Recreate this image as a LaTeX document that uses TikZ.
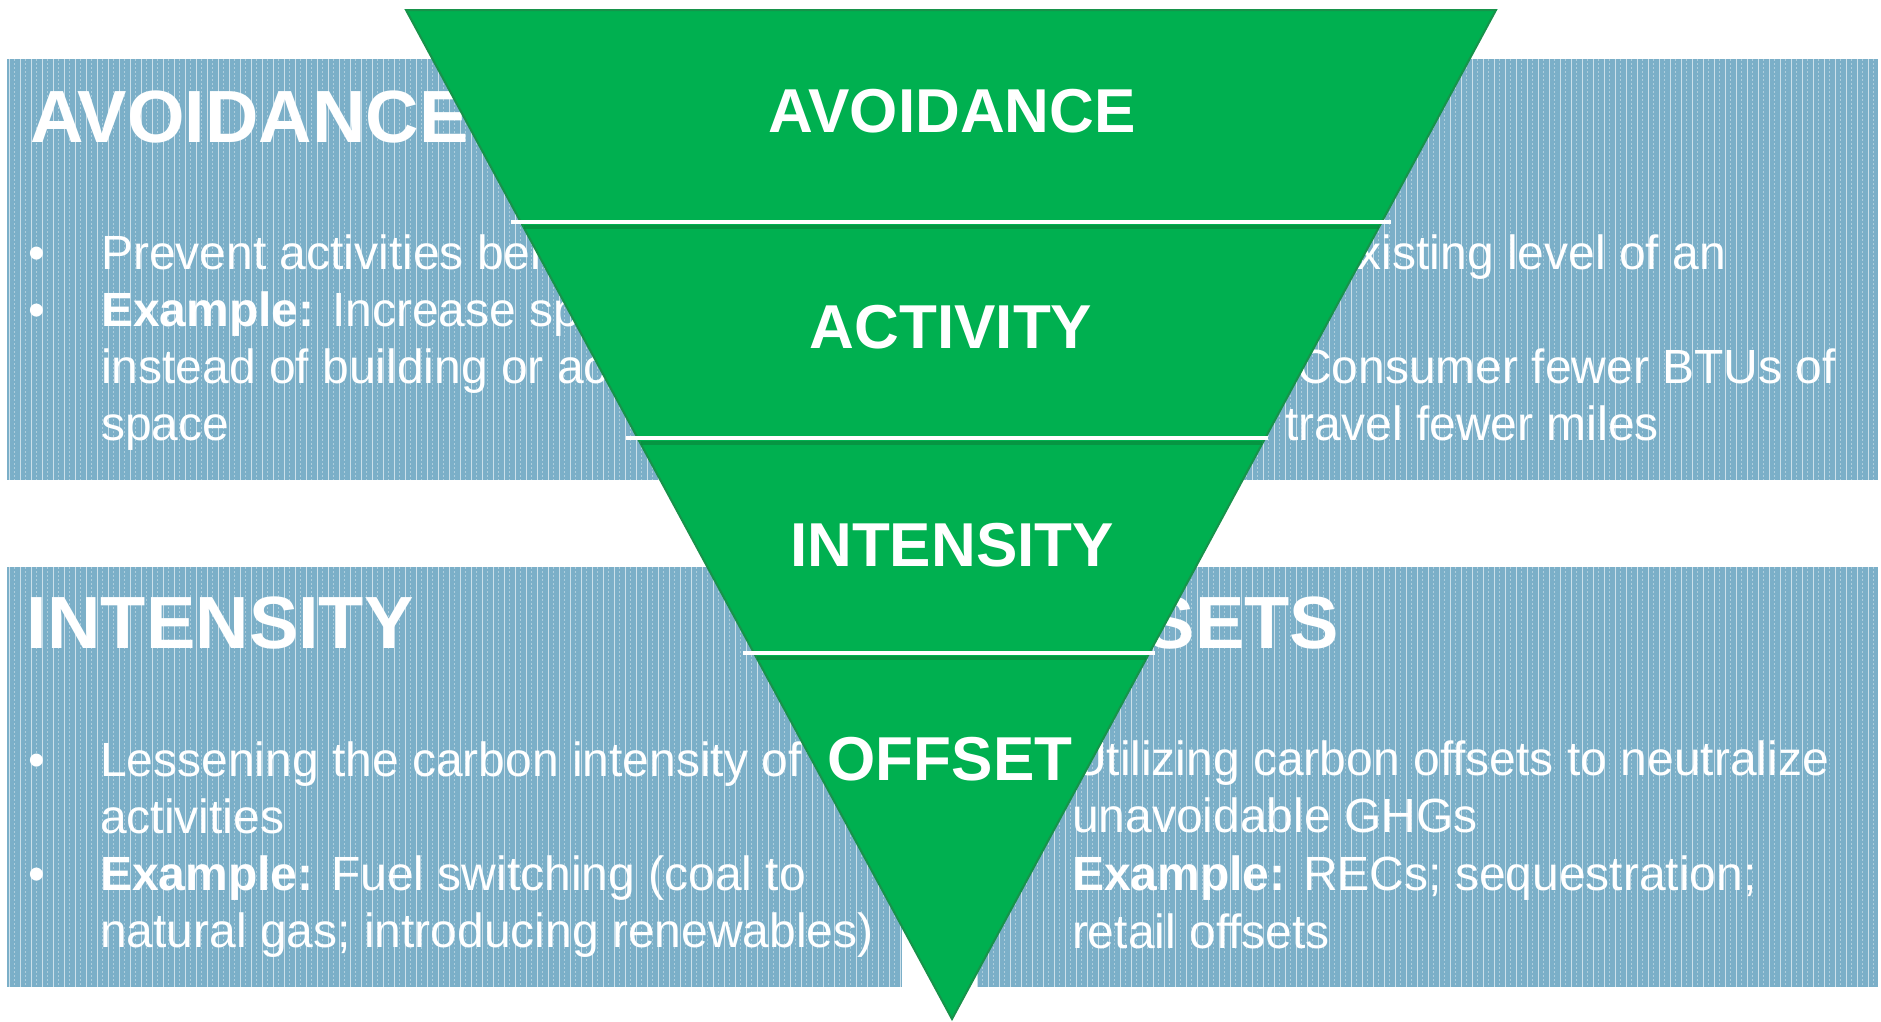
\documentclass[tikz,border=0pt]{standalone}
\usepackage{fontspec}
\setmainfont{Liberation Sans}
\definecolor{panelblue}{HTML}{7BAFC8}
\definecolor{tiergreen}{HTML}{00B050}
\definecolor{tieredge}{HTML}{17934A}
\definecolor{tiershade}{HTML}{0B7F38}
\begin{document}
\begin{tikzpicture}[x=1pt,y=-1pt,
  every node/.style={inner sep=0pt, outer sep=0pt},
  panel/.style={fill=panelblue},
  stripe/.style={draw=white, draw opacity=0.62, line width=1pt},
  dstripe/.style={draw=white, draw opacity=0.38, line width=1pt, dash pattern=on 2pt off 2pt},
  body/.style={text=white, font=\fontsize{48}{57}\selectfont, anchor=base west},
  bodyr/.style={body, anchor=base east},
  bullet/.style={text=white, font=\fontsize{48}{57}\selectfont, anchor=base west},
  boxtitle/.style={text=white, font=\fontsize{74}{80}\selectfont\bfseries, anchor=base west},
  tierlabel/.style={text=white, font=\fontsize{62}{70}\selectfont\bfseries, anchor=base},
  tierfill/.style={fill=tiergreen, draw=tieredge, line width=2pt, line join=miter},
  divider/.style={draw=white, line width=3.5pt},
  dividershade/.style={draw=tiershade, line width=4pt, draw opacity=0.55}
]
\useasboundingbox (0,0) rectangle (1881,1021);
\fill[white] (0,0) rectangle (1881,1021);

% four striped panels
\path[panel] (7,59) rectangle (902,480);
\path[panel] (977,59) rectangle (1878,480);
\path[panel] (7,567) rectangle (902,987);
\path[panel] (977,567) rectangle (1878,987);
\begin{scope}
  \clip (7,59) rectangle (902,480) (977,59) rectangle (1878,480)
        (7,567) rectangle (902,987) (977,567) rectangle (1878,987);
  \foreach \x in {9,20,...,1879} {
    \path[stripe] (\x,59) -- (\x,987);
    \path[dstripe] (\x+5.5,59) -- (\x+5.5,987);
  }
\end{scope}

% top-left panel
\node[boxtitle] (avtitle) at (30,142) {AVOIDANCE};
\node[bullet] (avb1) at (28,269) {•};
\node[bullet] (avb2) at (28,326) {•};
\node[body] (av1) at (101,269) {Prevent activities being};
\node[body] (av2) at (101,326) {\textbf{Example:} Increase space};
\node[body] (av3) at (101,383) {instead of building or acquiring};
\node[body] (av4) at (101,440) {space};

% top-right panel
\node[bodyr] (ac1) at (1726,269) {existing level of an};
\node[bodyr] (ac3) at (1836,383) {Consumer fewer BTUs of};
\node[bodyr] (ac4) at (1659,440) {travel fewer miles};

% bottom-left panel
\node[boxtitle] (intitle) at (27,648) {INTENSITY};
\node[bullet] (inb1) at (28,776) {•};
\node[bullet] (inb2) at (28,890) {•};
\node[body] (in1) at (100,776) {Lessening the carbon intensity of};
\node[body] (in2) at (100,833) {activities};
\node[body] (in3) at (100,890) {\textbf{Example:} Fuel switching (coal to};
\node[body] (in4) at (100,947) {natural gas; introducing renewables)};

% bottom-right panel
\node[boxtitle, anchor=base east] (oftitle) at (1339,648) {OFFSETS};
\node[bullet] (ofb1) at (999,775) {•};
\node[bullet] (ofb2) at (999,890) {•};
\node[body] (of1) at (1072,775) {Utilizing carbon offsets to neutralize};
\node[body] (of2) at (1072,832) {unavoidable GHGs};
\node[body] (of3) at (1072,890) {\textbf{Example:} RECs; sequestration;};
\node[body] (of4) at (1072,948) {retail offsets};

% inverted pyramid
\coordinate (tl) at (406,10);
\coordinate (tr) at (1496,10);
\coordinate (tip) at (952,1019);
\path[tierfill] (tl) -- (tr) -- (tip) -- cycle;

% tier dividers with a soft shade beneath
\coordinate (d1l) at (511,222);  \coordinate (d1r) at (1391,222);
\coordinate (d2l) at (626,438);  \coordinate (d2r) at (1268,438);
\coordinate (d3l) at (743,653);  \coordinate (d3r) at (1155,653);
\path[dividershade] (524,226.5) -- (1379,226.5);
\path[dividershade] (641,442.5) -- (1262,442.5);
\path[dividershade] (757,657.5) -- (1146,657.5);
\path[divider] (d1l) -- (d1r);
\path[divider] (d2l) -- (d2r);
\path[divider] (d3l) -- (d3r);

% tier labels
\node[tierlabel] (t1) at (952,132) {AVOIDANCE};
\node[tierlabel] (t2) at (951,348) {ACTIVITY};
\node[tierlabel] (t3) at (952,566) {INTENSITY};
\node[tierlabel] (t4) at (950,780) {OFFSET};
\end{tikzpicture}
\end{document}
